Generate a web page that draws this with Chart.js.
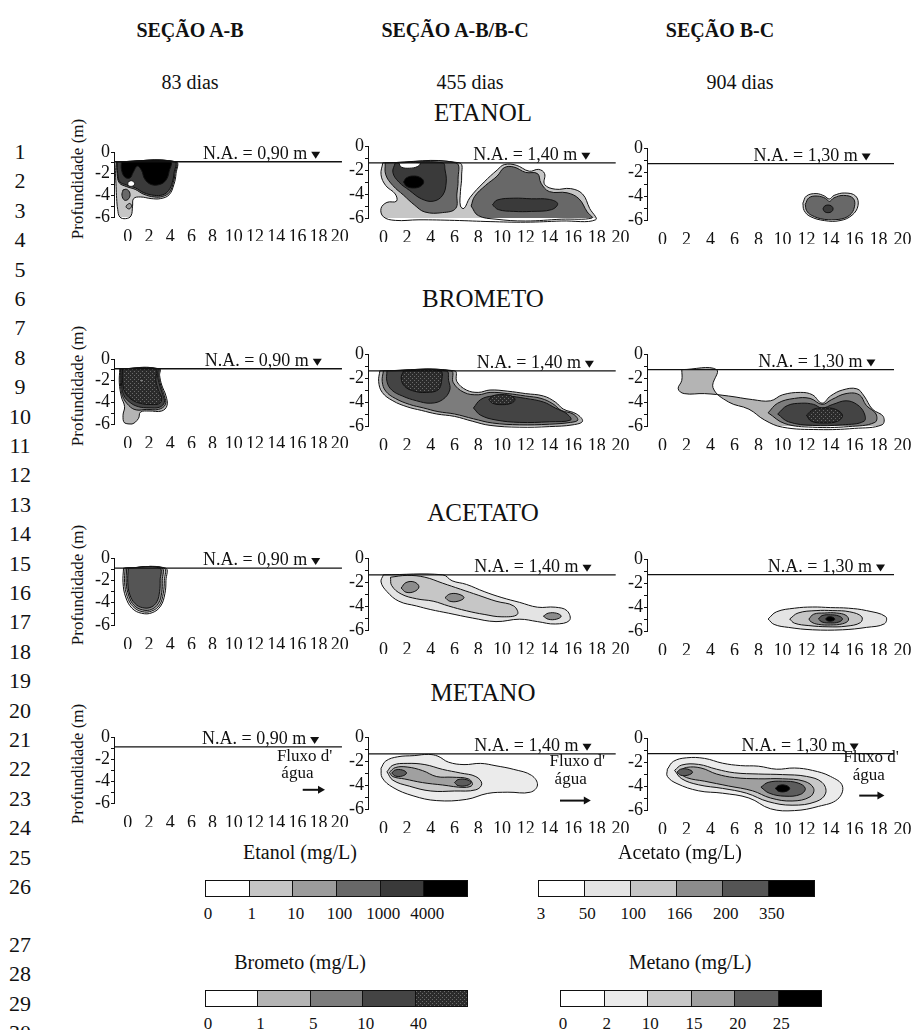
<!DOCTYPE html>
<html lang="pt">
<head>
<meta charset="utf-8">
<title>Plumas - etanol, brometo, acetato, metano</title>
<script src="https://cdn.jsdelivr.net/npm/chart.js@4.4.1/dist/chart.umd.min.js"></script>
<style>
  html, body { margin: 0; padding: 0; background: #fff; }
  #page { position: relative; width: 918px; height: 1030px; overflow: hidden;
          font-family: "Liberation Serif", "DejaVu Serif", serif; color: #111; }
  .txt { position: absolute; white-space: nowrap; transform: translate(-50%, -50%); line-height: 1; }
  .head { font-weight: bold; font-size: 20px; }
  .days { font-size: 20px; }
  .comp { font-size: 25px; }
  .num { font-size: 22px; }
  .ylab { font-size: 17px; transform: translate(-50%, -50%) rotate(-90deg); }
  .ltitle { font-size: 20px; }
  .lnum { font-size: 17px; }
  canvas { position: absolute; }
  .bar { position: absolute; display: flex; border: 1px solid #111; box-sizing: border-box; }
  .bar span { flex: 1; border-left: 1px solid #111; }
  .bar span:first-child { border-left: none; }
</style>
</head>
<body>
<div id="page"></div>
<script>
// --------------------------------------------------------------------------
// Data
// --------------------------------------------------------------------------
const SECTIONS = ['SEÇÃO A-B', 'SEÇÃO A-B/B-C', 'SEÇÃO B-C'];
const DAYS = ['83 dias', '455 dias', '904 dias'];
const COMPOUNDS = ['ETANOL', 'BROMETO', 'ACETATO', 'METANO'];
const WATER_TABLE = [0.90, 1.40, 1.30];            // N.A. (m) for each day
const WATER_TABLE_TEXT = ['0,90', '1,40', '1,30'];
const DIST_TICKS = [0, 2, 4, 6, 8, 10, 12, 14, 16, 18, 20];
const DEPTH_TICKS = [0, -1, -2, -3, -4, -5, -6];

const ETANOL_LIMITS = ['0', '1', '10', '100', '1000', '4000'];
const ACETATO_LIMITS = ['3', '50', '100', '166', '200', '350'];
const BROMETO_LIMITS = ['0', '1', '5', '10', '40'];
const METANO_LIMITS = ['0', '2', '10', '15', '20', '25'];

// contour polygons: [level, [[distance m, depth m], ...]]
const etanol83 = [
  [1, [[-1.1,-0.9],[-1.15,-2.0],[-1.1,-3.2],[-1.05,-4.3],[-0.95,-5.3],[-0.75,-6.0],[-0.2,-6.15],[0.3,-5.9],[0.45,-5.0],[0.55,-4.3],[1.2,-4.15],[2.2,-4.3],[3.1,-4.3],[3.9,-3.95],[4.35,-3.0],[4.55,-2.0],[4.55,-0.9]]],
  [3, [[-0.45,-3.5],[-0.1,-3.45],[0.2,-3.8],[0.1,-4.3],[-0.3,-4.45],[-0.55,-4.0]]],
  [2, [[-0.1,-4.9],[0.2,-4.75],[0.35,-5.0],[0.15,-5.25],[-0.15,-5.1]]],
  [3, [[-1.05,-0.9],[-1.0,-2.0],[-0.8,-2.85],[-0.1,-3.2],[0.7,-3.45],[1.5,-3.9],[2.5,-4.15],[3.3,-4.1],[3.95,-3.7],[4.3,-2.8],[4.45,-2.0],[4.5,-0.9]]],
  [4, [[-1.0,-0.9],[-0.95,-2.0],[-0.75,-2.75],[-0.1,-3.05],[0.7,-3.3],[1.5,-3.75],[2.5,-4.0],[3.3,-3.95],[3.85,-3.55],[4.2,-2.8],[4.35,-2.0],[4.4,-0.9]]],
  [5, [[-0.6,-0.9],[-0.6,-1.6],[-0.3,-2.3],[0.2,-2.4],[0.5,-1.9],[0.9,-1.3],[1.3,-1.7],[1.6,-2.5],[2.2,-3.0],[3.0,-3.0],[3.6,-2.6],[3.9,-1.8],[4.0,-0.9]]],
  [0, [[0.0,-2.8],[0.35,-2.65],[0.65,-2.9],[0.45,-3.15],[0.05,-3.1]]]
];
const etanol455 = [
  [1, [[-0.05,-1.4],[-0.2,-2.4],[0.2,-3.3],[1.0,-4.0],[1.1,-4.6],[0.3,-4.7],[-0.2,-5.2],[0.0,-5.9],[1.0,-6.2],[3.0,-6.15],[6.0,-6.2],[9.0,-6.3],[12.0,-6.35],[15.0,-6.25],[17.9,-6.15],[17.4,-5.2],[16.8,-4.0],[15.8,-3.55],[14.5,-3.6],[13.6,-3.2],[13.6,-2.3],[13.1,-1.95],[12.3,-2.1],[11.2,-1.6],[10.2,-1.55],[9.6,-2.0],[8.5,-3.0],[7.3,-4.3],[6.8,-5.2],[6.5,-5.0],[6.5,-3.8],[6.6,-2.5],[6.4,-1.4]]],
  [3, [[0.15,-1.4],[0.2,-2.4],[0.8,-3.3],[1.7,-4.1],[2.6,-4.9],[3.5,-5.5],[5.0,-5.55],[6.1,-5.2],[6.2,-4.0],[6.3,-2.8],[6.1,-1.4]]],
  [4, [[1.0,-1.4],[0.8,-2.2],[1.3,-3.0],[2.2,-3.7],[3.2,-4.4],[4.2,-4.6],[5.0,-4.1],[5.3,-3.0],[5.2,-2.0],[5.0,-1.4]]],
  [0, [[1.3,-1.4],[1.5,-1.75],[2.2,-1.85],[2.9,-1.7],[3.1,-1.4]]],
  [5, [[1.7,-3.0],[1.95,-2.65],[2.55,-2.5],[3.15,-2.65],[3.4,-3.0],[3.15,-3.35],[2.55,-3.5],[1.95,-3.35]]],
  [3, [[7.4,-5.0],[7.7,-4.2],[8.6,-3.3],[9.6,-2.5],[10.2,-1.8],[11.0,-1.75],[12.0,-2.2],[13.0,-2.3],[13.3,-3.1],[14.0,-3.8],[15.5,-3.9],[16.5,-4.4],[17.2,-5.5],[17.6,-6.0],[15.0,-6.1],[12.0,-6.25],[9.5,-6.1],[8.0,-5.8]]],
  [4, [[9.2,-4.9],[9.6,-4.5],[11.0,-4.35],[12.5,-4.4],[14.0,-4.45],[14.7,-4.8],[14.2,-5.3],[12.5,-5.45],[11.0,-5.45],[9.7,-5.3]]]
];
const etanol904 = [
  [1, [[11.7,-4.6],[12.0,-4.0],[12.8,-3.8],[13.5,-4.0],[13.9,-4.25],[14.3,-3.95],[15.2,-3.75],[16.1,-4.0],[16.3,-4.8],[15.8,-5.6],[14.8,-6.05],[13.5,-6.05],[12.3,-5.7],[11.8,-5.2]]],
  [3, [[11.9,-4.7],[12.2,-4.15],[12.9,-4.0],[13.6,-4.2],[13.9,-4.45],[14.3,-4.15],[15.1,-3.95],[15.9,-4.2],[16.0,-4.9],[15.6,-5.6],[14.7,-5.95],[13.5,-5.95],[12.4,-5.6],[12.0,-5.2]]],
  [4, [[13.38,-5.07],[13.5,-4.85],[13.8,-4.75],[14.1,-4.85],[14.22,-5.07],[14.1,-5.3],[13.8,-5.39],[13.5,-5.3]]]
];
const brometo83 = [
  [1, [[-0.75,-0.9],[-0.8,-2.2],[-0.6,-3.5],[-0.3,-4.4],[-0.45,-5.2],[-0.3,-5.9],[0.4,-6.0],[1.0,-5.5],[1.2,-4.9],[2.0,-4.8],[3.2,-4.8],[3.7,-4.3],[3.6,-3.4],[3.2,-2.4],[3.0,-1.5],[3.0,-0.9]]],
  [2, [[-0.7,-0.9],[-0.7,-2.2],[-0.5,-3.4],[0.1,-4.3],[0.8,-4.7],[1.8,-4.65],[2.9,-4.65],[3.55,-4.2],[3.45,-3.4],[3.1,-2.4],[2.9,-1.5],[2.9,-0.9]]],
  [3, [[-0.65,-0.9],[-0.6,-2.2],[-0.4,-3.3],[0.2,-4.0],[1.0,-4.4],[2.0,-4.5],[3.0,-4.45],[3.45,-4.0],[3.3,-3.3],[3.0,-2.4],[2.8,-1.5],[2.8,-0.9]]],
  [4, [[-0.5,-0.9],[-0.5,-2.0],[-0.3,-3.0],[0.3,-3.7],[1.2,-4.1],[2.2,-4.2],[3.0,-4.1],[3.2,-3.6],[2.9,-2.9],[2.65,-2.0],[2.6,-0.9]]],
  [2, [[1.1,-2.0],[1.3,-1.85],[1.5,-2.0],[1.3,-2.15]]]
];
const brometo455 = [
  [1, [[-0.3,-1.4],[-0.4,-2.3],[-0.1,-3.2],[0.8,-3.9],[2.0,-4.4],[3.2,-4.7],[4.5,-5.0],[6.0,-5.2],[7.5,-5.6],[9.0,-5.95],[11.5,-6.1],[14.0,-6.05],[16.0,-5.9],[16.8,-5.6],[16.3,-5.0],[15.2,-4.6],[14.5,-4.0],[13.5,-3.5],[12.0,-3.3],[10.5,-3.1],[9.0,-3.0],[8.0,-3.2],[7.0,-3.0],[6.2,-2.3],[6.0,-1.4]]],
  [2, [[0.0,-1.4],[-0.1,-2.3],[0.2,-3.1],[1.0,-3.7],[2.2,-4.2],[3.4,-4.5],[4.6,-4.8],[6.0,-5.0],[7.6,-5.4],[9.2,-5.75],[11.5,-5.9],[14.0,-5.85],[15.8,-5.7],[16.4,-5.5],[16.0,-5.0],[15.0,-4.7],[14.3,-4.15],[13.3,-3.7],[12.0,-3.5],[10.5,-3.3],[9.0,-3.2],[8.0,-3.4],[6.8,-3.2],[5.9,-2.4],[5.7,-1.4]]],
  [3, [[0.3,-1.4],[0.3,-2.3],[0.7,-3.0],[1.6,-3.5],[2.8,-3.9],[4.0,-4.1],[5.0,-3.8],[5.6,-3.0],[5.5,-2.2],[5.3,-1.4]]],
  [3, [[7.6,-4.5],[8.2,-3.8],[9.2,-3.5],[10.5,-3.5],[12.0,-3.7],[13.5,-4.0],[14.5,-4.5],[15.5,-5.0],[15.8,-5.5],[14.0,-5.65],[11.5,-5.7],[9.5,-5.5],[8.2,-5.1]]],
  [4, [[1.7,-1.4],[1.5,-2.0],[1.8,-2.7],[2.6,-3.1],[3.6,-3.2],[4.6,-3.0],[4.9,-2.3],[4.8,-1.4]]],
  [4, [[8.9,-3.8],[9.2,-3.5],[10.0,-3.38],[10.8,-3.5],[11.1,-3.8],[10.8,-4.1],[10.0,-4.22],[9.2,-4.1]]]
];
const brometo904 = [
  [1, [[1.6,-1.3],[1.6,-2.2],[1.3,-2.9],[1.8,-3.3],[3.5,-3.3],[5.5,-3.5],[7.5,-3.8],[9.0,-3.9],[10.0,-3.4],[11.5,-3.2],[12.5,-3.4],[13.3,-4.1],[14.0,-3.5],[15.0,-3.0],[16.2,-2.9],[16.8,-3.5],[17.5,-4.6],[18.4,-5.2],[18.3,-5.9],[16.0,-6.2],[13.0,-6.3],[10.0,-6.1],[8.5,-5.5],[7.2,-4.6],[5.5,-4.0],[4.2,-2.8],[4.5,-1.3]]],
  [2, [[8.8,-4.9],[9.6,-4.1],[11.0,-3.7],[12.3,-3.7],[13.3,-4.2],[14.1,-3.8],[15.3,-3.3],[16.4,-3.4],[17.0,-4.3],[17.8,-5.0],[17.7,-5.7],[15.5,-6.05],[12.5,-6.1],[10.2,-5.8]]],
  [3, [[9.6,-5.0],[10.4,-4.3],[11.6,-4.1],[12.6,-4.2],[13.3,-4.5],[14.2,-4.2],[15.3,-3.9],[16.2,-4.2],[16.8,-4.9],[16.8,-5.6],[15.0,-5.9],[12.5,-5.95],[10.5,-5.65]]],
  [4, [[12.0,-5.1],[12.6,-4.6],[13.5,-4.5],[14.4,-4.6],[15.0,-5.1],[14.6,-5.6],[13.5,-5.75],[12.4,-5.6]]]
];
const acetato83 = [
  [1, [[-0.4,-0.9],[-0.45,-2.2],[-0.2,-3.5],[0.4,-4.5],[1.3,-4.95],[2.3,-4.9],[3.1,-4.3],[3.5,-3.2],[3.6,-2.0],[3.55,-0.9]]],
  [2, [[-0.25,-0.9],[-0.3,-2.2],[-0.05,-3.45],[0.5,-4.35],[1.35,-4.8],[2.25,-4.75],[3.0,-4.2],[3.35,-3.15],[3.45,-2.0],[3.4,-0.9]]],
  [3, [[-0.1,-0.9],[-0.15,-2.2],[0.1,-3.4],[0.6,-4.25],[1.4,-4.65],[2.25,-4.6],[2.9,-4.05],[3.2,-3.1],[3.25,-2.0],[3.2,-0.9]]],
  [4, [[0.05,-0.9],[0.0,-2.2],[0.2,-3.3],[0.7,-4.1],[1.4,-4.45],[2.2,-4.4],[2.75,-3.9],[3.0,-3.0],[3.05,-2.0],[3.0,-0.9]]]
];
const acetato455 = [
  [1, [[0.0,-1.4],[-0.2,-2.0],[0.3,-2.8],[1.3,-3.6],[2.8,-4.0],[4.0,-4.3],[5.5,-4.6],[7.5,-5.0],[9.5,-5.3],[11.5,-5.1],[13.0,-5.3],[14.5,-5.5],[15.7,-5.2],[15.5,-4.4],[14.5,-4.1],[13.0,-4.1],[11.5,-3.7],[10.0,-3.3],[8.5,-2.8],[7.0,-2.2],[5.8,-1.9],[5.0,-1.4]]],
  [2, [[0.6,-1.6],[0.7,-2.3],[1.5,-3.0],[2.8,-3.4],[4.2,-3.6],[5.5,-4.0],[7.0,-4.4],[8.5,-4.7],[10.0,-4.9],[11.3,-4.7],[11.0,-4.0],[9.5,-3.6],[8.0,-3.1],[6.5,-2.6],[5.0,-2.1],[3.5,-1.6],[2.0,-1.45]]],
  [3, [[1.5,-2.5],[1.9,-2.05],[2.6,-2.0],[3.0,-2.4],[2.6,-2.8],[1.9,-2.85]]],
  [3, [[5.2,-3.3],[5.6,-3.0],[6.3,-3.0],[6.8,-3.3],[6.3,-3.6],[5.6,-3.6]]],
  [3, [[13.5,-4.85],[13.9,-4.6],[14.6,-4.6],[15.0,-4.85],[14.6,-5.1],[13.9,-5.1]]]
];
const acetato904 = [
  [1, [[8.8,-5.0],[9.5,-4.4],[11.0,-4.1],[12.5,-4.0],[14.0,-4.05],[15.5,-4.1],[17.0,-4.3],[18.6,-4.8],[18.5,-5.4],[17.0,-5.7],[15.0,-5.9],[12.5,-5.9],[10.5,-5.7],[9.3,-5.45]]],
  [2, [[10.6,-5.0],[11.3,-4.5],[12.8,-4.3],[14.2,-4.3],[15.6,-4.4],[16.6,-4.8],[16.5,-5.3],[15.3,-5.6],[13.8,-5.65],[12.2,-5.55],[11.0,-5.35]]],
  [3, [[12.2,-5.0],[12.6,-4.6],[13.5,-4.5],[14.5,-4.5],[15.3,-4.7],[15.5,-5.1],[15.0,-5.4],[14.0,-5.5],[13.0,-5.45],[12.4,-5.25]]],
  [4, [[13.0,-5.0],[13.3,-4.72],[14.0,-4.65],[14.7,-4.75],[15.0,-5.0],[14.7,-5.25],[14.0,-5.33],[13.3,-5.25]]],
  [5, [[13.6,-5.0],[13.75,-4.85],[14.05,-4.82],[14.3,-4.92],[14.35,-5.05],[14.2,-5.15],[13.9,-5.18],[13.7,-5.12]]]
];
const metano83 = [];
const metano455 = [
  [1, [[-0.2,-2.6],[0.2,-2.0],[1.2,-1.65],[2.6,-1.55],[3.8,-1.45],[4.6,-1.6],[5.5,-2.1],[6.8,-2.3],[8.2,-2.2],[9.5,-2.4],[11.0,-2.7],[12.5,-3.2],[13.0,-4.0],[12.4,-4.6],[10.5,-4.6],[8.8,-4.7],[7.0,-5.2],[4.5,-5.3],[2.5,-4.9],[0.8,-4.2],[-0.1,-3.4]]],
  [2, [[0.3,-2.9],[0.8,-2.35],[2.0,-2.2],[3.5,-2.3],[5.0,-2.7],[6.5,-3.0],[7.8,-3.3],[8.3,-3.9],[7.8,-4.4],[6.0,-4.5],[4.0,-4.5],[2.2,-4.1],[0.8,-3.6]]],
  [3, [[0.5,-2.95],[1.0,-2.55],[2.0,-2.5],[3.3,-2.8],[4.5,-3.3],[5.8,-3.35],[7.2,-3.5],[7.5,-4.0],[6.8,-4.2],[5.0,-4.0],[3.3,-3.8],[1.8,-3.5],[0.8,-3.3]]],
  [4, [[0.7,-3.0],[1.0,-2.75],[1.6,-2.75],[1.95,-3.0],[1.6,-3.25],[1.0,-3.25]]],
  [4, [[6.0,-3.8],[6.3,-3.55],[7.0,-3.55],[7.4,-3.8],[7.0,-4.05],[6.3,-4.05]]]
];
const metano904 = [
  [1, [[0.4,-2.6],[0.9,-1.95],[2.0,-1.65],[3.5,-1.7],[5.0,-2.1],[6.5,-2.3],[8.0,-2.35],[9.5,-2.6],[11.0,-2.5],[12.5,-2.7],[14.0,-3.2],[15.0,-4.0],[14.6,-5.1],[13.0,-5.7],[11.0,-6.05],[9.0,-5.9],[7.2,-5.0],[5.0,-4.6],[3.0,-4.4],[1.2,-3.8],[0.4,-3.2]]],
  [2, [[1.0,-2.7],[1.6,-2.25],[3.0,-2.2],[4.5,-2.6],[6.0,-2.9],[8.0,-3.0],[10.0,-3.05],[12.0,-3.2],[13.3,-3.7],[13.6,-4.6],[12.8,-5.3],[10.8,-5.6],[8.8,-5.3],[7.0,-4.6],[5.0,-4.2],[3.0,-3.9],[1.6,-3.4]]],
  [3, [[1.3,-2.8],[2.0,-2.45],[3.2,-2.5],[4.5,-3.0],[6.0,-3.3],[8.0,-3.4],[10.0,-3.4],[11.8,-3.6],[12.6,-4.2],[12.3,-4.9],[10.8,-5.25],[9.0,-5.0],[7.5,-4.4],[5.5,-4.0],[3.5,-3.6],[2.0,-3.3]]],
  [4, [[8.2,-4.1],[8.8,-3.7],[10.0,-3.6],[11.3,-3.75],[11.9,-4.2],[11.5,-4.7],[10.2,-4.85],[8.9,-4.6]]],
  [4, [[1.2,-2.85],[1.5,-2.6],[2.1,-2.6],[2.5,-2.85],[2.1,-3.1],[1.5,-3.1]]],
  [5, [[9.4,-4.2],[9.7,-3.95],[10.3,-3.95],[10.6,-4.2],[10.3,-4.45],[9.7,-4.45]]]
];
const PLUMES = [
  [etanol83, etanol455, etanol904],
  [brometo83, brometo455, brometo904],
  [acetato83, acetato455, acetato904],
  [metano83, metano455, metano904]
];

// --------------------------------------------------------------------------
// Look and layout
// --------------------------------------------------------------------------
function makeHatch() {
  const c = document.createElement('canvas');
  c.width = 4; c.height = 4;
  const g = c.getContext('2d');
  g.fillStyle = '#2b2b2b'; g.fillRect(0, 0, 4, 4);
  g.fillStyle = '#6a6a6a'; g.fillRect(0, 0, 1, 1); g.fillRect(2, 2, 1, 1);
  return c;
}
const hatchCanvas = makeHatch();
const hatch = hatchCanvas.getContext('2d').createPattern(hatchCanvas, 'repeat');

const GREY_ETANOL = ['#ffffff', '#c6c6c6', '#9c9c9c', '#686868', '#3a3a3a', '#000000'];
const GREY_BROMETO = ['#ffffff', '#b4b4b4', '#7c7c7c', '#444444', hatch];
const GREY_ACETATO = ['#ffffff', '#e4e4e4', '#c6c6c6', '#8c8c8c', '#555555', '#000000'];
const GREY_METANO = ['#ffffff', '#ebebeb', '#c8c8c8', '#a0a0a0', '#5c5c5c', '#000000'];
const PALETTES = [GREY_ETANOL, GREY_BROMETO, GREY_ACETATO, GREY_METANO];

const X_MIN = -1.3, X_MAX = 20.3;
const YW = 34, TP = 26, XH = 24, RP = 14;
const COL_X0 = [128, 383, 663];          // pixel of distance 0
const COL_SX = [10.6, 11.85, 12.0];      // px per metre
const ROW_Y0 = [[152, 146, 148], [359, 354, 354], [558, 558, 559], [737, 737, 738]];
const ROW_SY = [[10.8, 12.0, 12.0], [10.8, 12.0, 12.0], [11.2, 12.0, 12.0], [11.0, 12.0, 12.0]];
const NA_END = [20.2, 19.6, 19.3];
const NA_MARK = [[17.3, 16.7, 16.6], [17.45, 17.0, 17.0], [17.3, 16.8, 17.8], [17.2, 16.8, 15.6]];
const FLOW_TEXT = [[19.3, -2.2, 16.0, -3.7, 16.5, 18.6, -4.8], [18.7, -2.4, 15.8, -3.9, 14.9, 17.5, -5.3], [19.7, -2.0, 17.2, -3.5, 16.4, 18.5, -4.8]];

const page = document.getElementById('page');
function addText(cls, text, x, y) {
  const d = document.createElement('div');
  d.className = 'txt ' + cls;
  d.textContent = text;
  d.style.left = x + 'px';
  d.style.top = y + 'px';
  page.appendChild(d);
  return d;
}

// headings
[190, 455, 720].forEach((x, i) => addText('head', SECTIONS[i], x, 30));
[190, 470, 740].forEach((x, i) => addText('days', DAYS[i], x, 82));
[112, 298, 512, 692].forEach((y, i) => addText('comp', COMPOUNDS[i], 483, y));
ROW_Y0.forEach(r => addText('ylab', 'Profundidade (m)', 77, r[0] + 27));

// line numbers in the margin
for (let n = 1; n <= 30; n++) {
  const y = n <= 26 ? 152 + (n - 1) * 29.4 : 945 + (n - 27) * 29.4;
  addText('num', String(n), 20, y);
}

function panelPlugin(row, col) {
  return {
    id: 'panelText' + row + col,
    afterDraw(chart) {
      const {ctx, scales: {x, y}} = chart;
      const py = y.getPixelForValue(-WATER_TABLE[col]);
      const tx = x.getPixelForValue(NA_MARK[row][col]);
      ctx.save();
      ctx.fillStyle = '#111';
      ctx.font = '18px "Liberation Serif"';
      ctx.textAlign = 'right';
      ctx.textBaseline = 'alphabetic';
      ctx.fillText('N.A. = ' + WATER_TABLE_TEXT[col] + ' m', tx - 4, py - 3);
      ctx.beginPath();
      ctx.moveTo(tx, py - 10);
      ctx.lineTo(tx + 9, py - 10);
      ctx.lineTo(tx + 4.5, py - 3);
      ctx.closePath();
      ctx.fill();
      if (row === 3) {
        const f = FLOW_TEXT[col];
        ctx.font = '17px "Liberation Serif"';
        ctx.textAlign = 'right';
        ctx.fillText("Fluxo d'", x.getPixelForValue(f[0]), y.getPixelForValue(f[1]));
        ctx.textAlign = 'center';
        ctx.fillText('água', x.getPixelForValue(f[2]), y.getPixelForValue(f[3]));
        const ax0 = x.getPixelForValue(f[4]), ax1 = x.getPixelForValue(f[5]), ay = y.getPixelForValue(f[6]);
        ctx.lineWidth = 2;
        ctx.strokeStyle = '#111';
        ctx.beginPath(); ctx.moveTo(ax0, ay); ctx.lineTo(ax1 - 5, ay); ctx.stroke();
        ctx.beginPath(); ctx.moveTo(ax1, ay); ctx.lineTo(ax1 - 7, ay - 4); ctx.lineTo(ax1 - 7, ay + 4); ctx.closePath(); ctx.fill();
      }
      ctx.restore();
    }
  };
}

function drawPanel(row, col) {
  const sx = COL_SX[col], sy = ROW_SY[row][col];
  const areaW = (X_MAX - X_MIN) * sx, areaH = 6 * sy;
  const cv = document.createElement('canvas');
  cv.width = Math.round(areaW + YW + RP);
  cv.height = Math.round(TP + areaH + XH);
  cv.style.left = Math.round(COL_X0[col] + X_MIN * sx - YW) + 'px';
  cv.style.top = Math.round(ROW_Y0[row][col] - TP) + 'px';
  page.appendChild(cv);

  const polys = PLUMES[row][col];
  const palette = PALETTES[row];
  const datasets = polys.map(([lvl, pts], i) => ({
    data: pts.concat([pts[0]]).map(([x, y]) => ({x, y})),
    backgroundColor: palette[lvl],
    borderColor: '#111',
    borderWidth: 1,
    fill: 'shape',
    tension: 0.4,
    pointRadius: 0,
    clip: 6,
    order: polys.length - i + 1
  }));
  datasets.push({
    data: [{x: X_MIN, y: -WATER_TABLE[col]}, {x: NA_END[col], y: -WATER_TABLE[col]}],
    borderColor: '#111',
    borderWidth: 1.3,
    fill: false,
    pointRadius: 0,
    tension: 0,
    clip: 6,
    order: 0
  });

  const tickFont = {family: "'Liberation Serif', serif", size: 18};
  new Chart(cv, {
    type: 'line',
    data: {datasets},
    options: {
      responsive: false,
      maintainAspectRatio: false,
      animation: false,
      events: [],
      layout: {padding: {top: TP, right: RP, left: 0, bottom: 0}},
      scales: {
        x: {
          type: 'linear',
          min: X_MIN,
          max: X_MAX,
          afterBuildTicks: s => { s.ticks = DIST_TICKS.map(v => ({value: v})); },
          afterFit: s => { s.height = XH; },
          grid: {display: false},
          border: {display: false},
          ticks: {font: tickFont, color: '#111', padding: 1, maxRotation: 0, autoSkip: false}
        },
        y: {
          type: 'linear',
          min: -6,
          max: 0,
          afterBuildTicks: s => { s.ticks = DEPTH_TICKS.map(v => ({value: v})); },
          afterFit: s => { s.width = YW; },
          grid: {drawOnChartArea: false, drawTicks: true, tickLength: 3, color: '#111'},
          border: {display: true, color: '#111', width: 1},
          ticks: {font: tickFont, color: '#111', padding: 1, autoSkip: false,
                  callback: v => (v % 2 === 0 ? String(v) : '')}
        }
      },
      plugins: {legend: {display: false}, tooltip: {enabled: false}, title: {display: false}}
    },
    plugins: [panelPlugin(row, col)]
  });
}

for (let r = 0; r < 4; r++) for (let c = 0; c < 3; c++) drawPanel(r, c);

// --------------------------------------------------------------------------
// Colour keys
// --------------------------------------------------------------------------
const KEYS = [
  {title: 'Etanol (mg/L)', limits: ETANOL_LIMITS, greys: GREY_ETANOL, x: 205, w: 263, y: 880, tx: 300, ty: 852},
  {title: 'Acetato (mg/L)', limits: ACETATO_LIMITS, greys: GREY_ACETATO, x: 538, w: 277, y: 880, tx: 680, ty: 852},
  {title: 'Brometo (mg/L)', limits: BROMETO_LIMITS, greys: GREY_BROMETO, x: 205, w: 263, y: 990, tx: 300, ty: 962},
  {title: 'Metano (mg/L)', limits: METANO_LIMITS, greys: GREY_METANO, x: 560, w: 262, y: 990, tx: 690, ty: 962}
];
KEYS.forEach(k => {
  addText('ltitle', k.title, k.tx, k.ty);
  const bar = document.createElement('div');
  bar.className = 'bar';
  bar.style.left = k.x + 'px';
  bar.style.top = k.y + 'px';
  bar.style.width = k.w + 'px';
  bar.style.height = '17px';
  k.greys.forEach(g => {
    const s = document.createElement('span');
    if (typeof g === 'string') s.style.background = g;
    else s.style.background = 'url(' + hatchCanvas.toDataURL() + ')';
    bar.appendChild(s);
  });
  page.appendChild(bar);
  const cell = k.w / k.greys.length;
  k.limits.forEach((t, i) => addText('lnum', t, k.x + 3 + i * cell, k.y + 33));
});
</script>
</body>
</html>
